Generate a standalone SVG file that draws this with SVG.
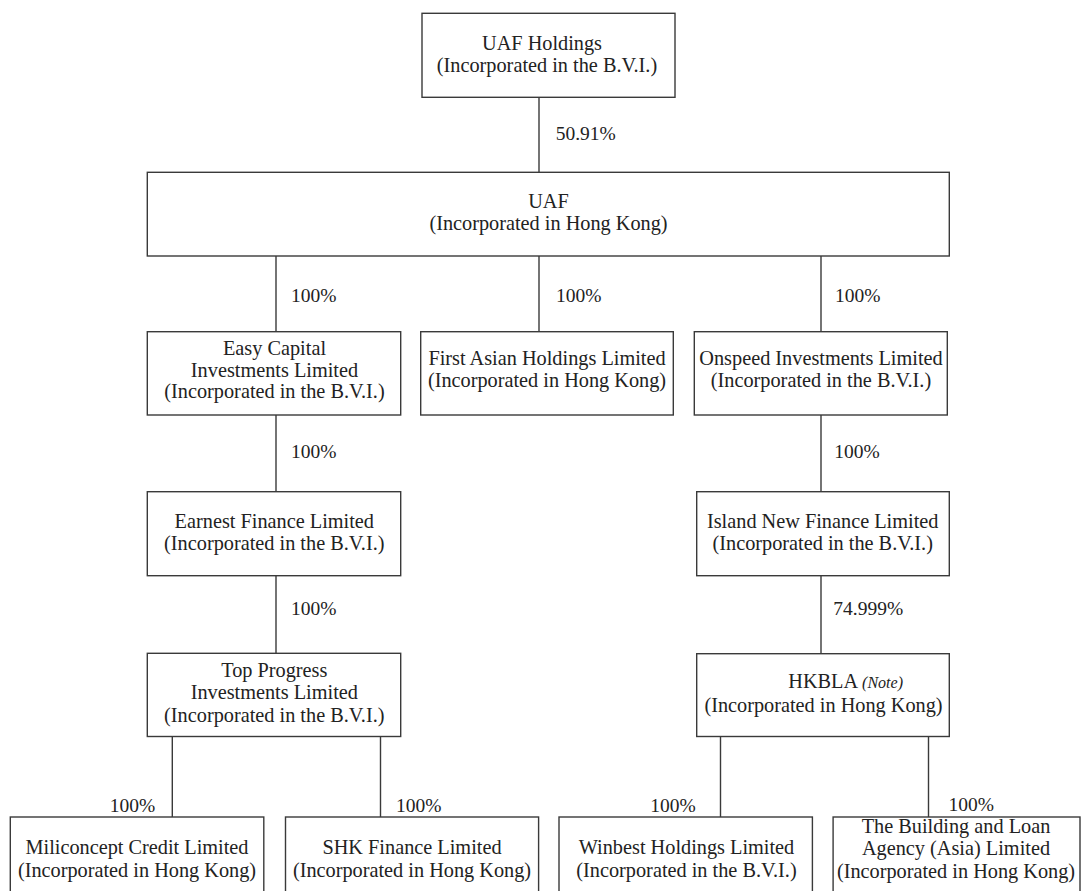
<svg xmlns="http://www.w3.org/2000/svg" width="1081" height="891" viewBox="0 0 1081 891">
<style>
.box{fill:#fff;stroke:#3a3a3a;stroke-width:1.4}
.ln{stroke:#3a3a3a;stroke-width:1.4;fill:none}
text{font-family:"Liberation Serif","Times New Roman",serif;font-size:20.3px;fill:#222}
.t{text-anchor:middle}
.pct{font-size:19.5px}
.note{font-style:italic;font-size:16px}
</style>
<rect width="1081" height="891" fill="#fff"/>
<g id="connectors">
<line class="ln" x1="539" y1="97.3" x2="539" y2="172.3"/>
<line class="ln" x1="276" y1="256" x2="276" y2="331.7"/>
<line class="ln" x1="539" y1="256" x2="539" y2="331.7"/>
<line class="ln" x1="821" y1="256" x2="821" y2="331.7"/>
<line class="ln" x1="276" y1="415" x2="276" y2="491.7"/>
<line class="ln" x1="821" y1="415" x2="821" y2="491.7"/>
<line class="ln" x1="276" y1="575.7" x2="276" y2="653.3"/>
<line class="ln" x1="821" y1="575.7" x2="821" y2="653.7"/>
<line class="ln" x1="172.3" y1="736.5" x2="172.3" y2="817"/>
<line class="ln" x1="380.5" y1="736.5" x2="380.5" y2="817"/>
<line class="ln" x1="720.5" y1="736.5" x2="720.5" y2="817"/>
<line class="ln" x1="928.5" y1="736.5" x2="928.5" y2="817"/>
<text class="pct" x="555.7" y="140">50.91%</text>
<text class="pct" x="291" y="301.7">100%</text>
<text class="pct" x="556" y="301.7">100%</text>
<text class="pct" x="835" y="301.7">100%</text>
<text class="pct" x="291" y="458.3">100%</text>
<text class="pct" x="834.3" y="458.3">100%</text>
<text class="pct" x="291" y="615">100%</text>
<text class="pct" x="833.3" y="615">74.999%</text>
<text class="pct" x="109.7" y="812">100%</text>
<text class="pct" x="395.9" y="812">100%</text>
<text class="pct" x="650.3" y="812">100%</text>
<text class="pct" x="948.6" y="810.5">100%</text>
</g>
<g id="uaf-holdings">
<rect class="box" x="422" y="13.3" width="253" height="84"/>
<text class="t" x="542" y="50">UAF Holdings</text>
<text class="t" x="547" y="72">(Incorporated in the B.V.I.)</text>
</g>
<g id="uaf">
<rect class="box" x="147.3" y="172.3" width="802" height="83.7"/>
<text class="t" x="548.5" y="208">UAF</text>
<text class="t" x="548.5" y="230">(Incorporated in Hong Kong)</text>
</g>
<g id="easy-capital">
<rect class="box" x="147.3" y="331.7" width="253.4" height="83.3"/>
<text class="t" x="274.5" y="355">Easy Capital</text>
<text class="t" x="274.5" y="376.7">Investments Limited</text>
<text class="t" x="274.5" y="398.3">(Incorporated in the B.V.I.)</text>
</g>
<g id="first-asian">
<rect class="box" x="420.7" y="331.7" width="252.6" height="83.3"/>
<text class="t" x="547" y="365">First Asian Holdings Limited</text>
<text class="t" x="547" y="386.7">(Incorporated in Hong Kong)</text>
</g>
<g id="onspeed">
<rect class="box" x="694.3" y="331.7" width="253" height="83.3"/>
<text class="t" x="821" y="365">Onspeed Investments Limited</text>
<text class="t" x="821" y="386.7">(Incorporated in the B.V.I.)</text>
</g>
<g id="earnest">
<rect class="box" x="147.3" y="491.7" width="253.4" height="84"/>
<text class="t" x="274.3" y="528.3">Earnest Finance Limited</text>
<text class="t" x="274.3" y="550">(Incorporated in the B.V.I.)</text>
</g>
<g id="island-new">
<rect class="box" x="696.7" y="491.7" width="252.6" height="84"/>
<text class="t" x="822.7" y="528.3">Island New Finance Limited</text>
<text class="t" x="822.7" y="550">(Incorporated in the B.V.I.)</text>
</g>
<g id="top-progress">
<rect class="box" x="147.3" y="653.3" width="253.4" height="83.2"/>
<text class="t" x="274.3" y="677.3">Top Progress</text>
<text class="t" x="274.3" y="699.3">Investments Limited</text>
<text class="t" x="274.3" y="721.7">(Incorporated in the B.V.I.)</text>
</g>
<g id="hkbla">
<rect class="box" x="696.7" y="653.7" width="252.6" height="82.8"/>
<text x="788.3" y="688.3">HKBLA <tspan class="note">(Note)</tspan></text>
<text class="t" x="823.5" y="711.7">(Incorporated in Hong Kong)</text>
</g>
<g id="miliconcept">
<rect class="box" x="10.3" y="817" width="253.5" height="80"/>
<text class="t" x="137" y="854">Miliconcept Credit Limited</text>
<text class="t" x="137" y="876.6">(Incorporated in Hong Kong)</text>
</g>
<g id="shk-finance">
<rect class="box" x="285.5" y="817" width="253.1" height="80"/>
<text class="t" x="412" y="854">SHK Finance Limited</text>
<text class="t" x="412" y="876.6">(Incorporated in Hong Kong)</text>
</g>
<g id="winbest">
<rect class="box" x="559" y="817" width="253.4" height="80"/>
<text class="t" x="686.5" y="854">Winbest Holdings Limited</text>
<text class="t" x="686.5" y="876.6">(Incorporated in the B.V.I.)</text>
</g>
<g id="building-loan">
<rect class="box" x="833.1" y="817" width="246.9" height="80"/>
<text class="t" x="956" y="833">The Building and Loan</text>
<text class="t" x="956" y="855.3">Agency (Asia) Limited</text>
<text class="t" x="956" y="877.6">(Incorporated in Hong Kong)</text>
</g>
</svg>
